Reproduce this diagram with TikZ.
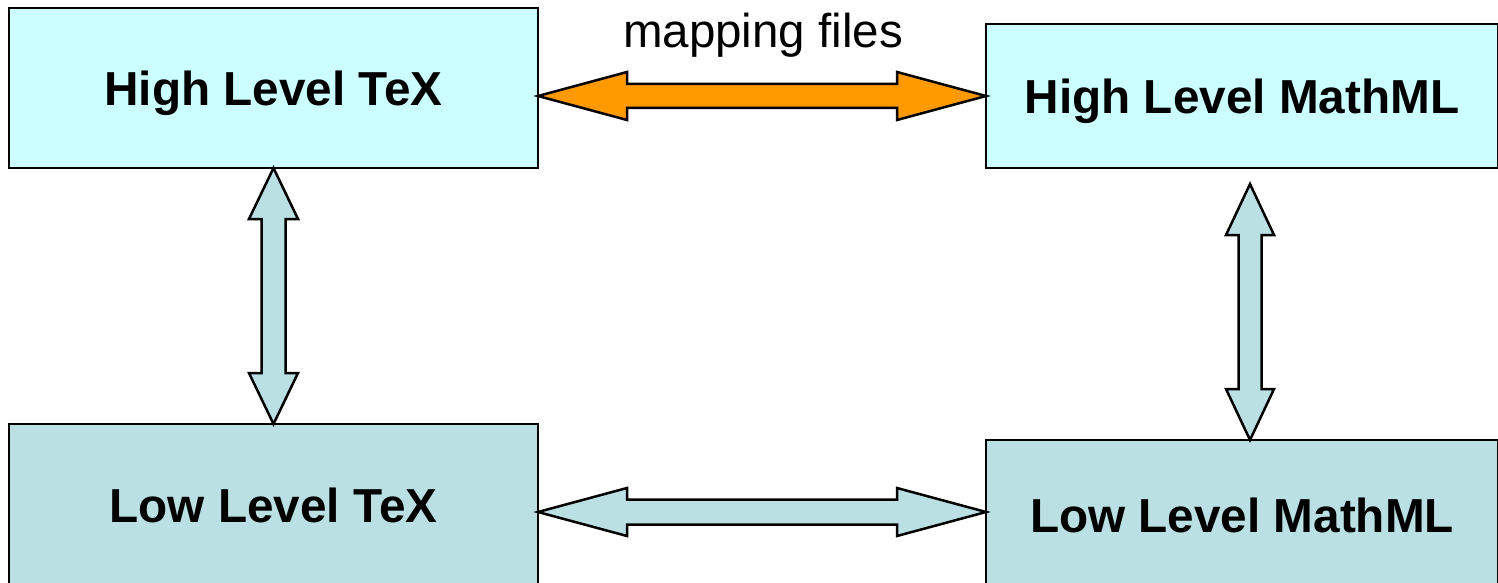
\documentclass[tikz,border=0pt]{standalone}
\usepackage{fontspec}
\setmainfont{Liberation Sans}
\usetikzlibrary{calc}

\definecolor{hifill}{HTML}{CCFFFF}
\definecolor{lofill}{HTML}{BBE0E3}
\definecolor{mapfill}{HTML}{FF9900}

% horizontal double arrow: style, left tip, right tip, head length, head half width, shaft half width
\newcommand{\hdblarrow}[6]{%
  \path[#1] let \p1=(#2), \p2=(#3) in
    (\p1) -- (\x1+#4,\y1+#5) -- (\x1+#4,\y1+#6) -- (\x2-#4,\y1+#6) -- (\x2-#4,\y1+#5)
    -- (\x2,\y1) -- (\x2-#4,\y1-#5) -- (\x2-#4,\y1-#6) -- (\x1+#4,\y1-#6) -- (\x1+#4,\y1-#5) -- cycle;}
% vertical double arrow: style, top tip, bottom tip, head length, head half width, shaft half width
\newcommand{\vdblarrow}[6]{%
  \path[#1] let \p1=(#2), \p2=(#3) in
    (\p1) -- (\x1+#5,\y1-#4) -- (\x1+#6,\y1-#4) -- (\x1+#6,\y2+#4) -- (\x1+#5,\y2+#4)
    -- (\x1,\y2) -- (\x1-#5,\y2+#4) -- (\x1-#6,\y2+#4) -- (\x1-#6,\y1-#4) -- (\x1-#5,\y1-#4) -- cycle;}

\tikzset{
  levelbox/.style={draw=black, line width=2.5pt, outer sep=0pt, inner sep=0pt,
    text depth=0pt, font=\fontsize{47.7}{57}\selectfont\bfseries},
  hibox/.style={levelbox, fill=hifill},
  lobox/.style={levelbox, fill=lofill},
  fatarrow/.style={draw=black, line width=2.5pt, line join=miter},
  maparrow/.style={fatarrow, fill=mapfill},
  plainarrow/.style={fatarrow, fill=lofill},
  caption/.style={font=\fontsize{47.5}{57}\selectfont, inner sep=0pt}
}

\begin{document}
\begin{tikzpicture}[x=1pt,y=-1pt]
  \useasboundingbox (0,0) rectangle (1498,583);
  \clip (0,0) rectangle (1498,583);

  \node[hibox, minimum width=529pt, minimum height=160pt] (hlt) at (273.5,88) {High Level TeX};
  \node[hibox, minimum width=512pt, minimum height=144pt] (hlm) at (1242,96) {High Level MathML};
  \node[lobox, minimum width=529pt, minimum height=162pt] (llt) at (273.5,505) {Low Level TeX};
  \node[lobox, minimum width=512pt, minimum height=150pt] (llm) at (1242,515) {Low Level MathML};

  \node[caption] (map) at (763,35) {mapping files};

  % mapping files arrow between the high level forms
  \coordinate (mapl) at (hlt.east |- hlm.west);
  \hdblarrow{maparrow}{mapl}{hlm.west}{89pt}{24pt}{12pt}

  % arrow between the low level forms
  \coordinate (lowl) at (llt.east |- 0,512);
  \coordinate (lowr) at (llm.west |- lowl);
  \hdblarrow{plainarrow}{lowl}{lowr}{89pt}{24pt}{12.5pt}

  % TeX side: high to low
  \vdblarrow{plainarrow}{hlt.south}{llt.north}{51pt}{24.5pt}{12pt}

  % MathML side: high to low
  \coordinate (mtop) at (1250,184);
  \coordinate (mbot) at (mtop |- llm.north);
  \vdblarrow{plainarrow}{mtop}{mbot}{51pt}{24pt}{11.5pt}
\end{tikzpicture}
\end{document}
